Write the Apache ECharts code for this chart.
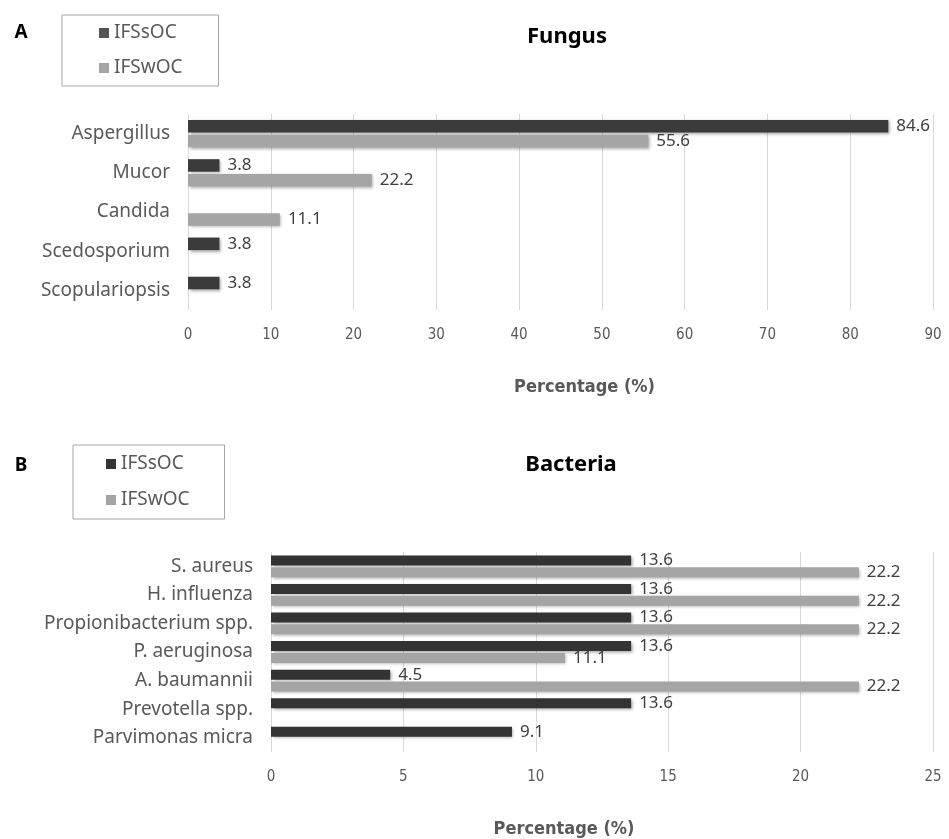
<!DOCTYPE html>
<html>
<head>
<meta charset="utf-8">
<script src="https://cdn.jsdelivr.net/npm/echarts@6/dist/echarts.min.js"></script>
<style>
html,body{margin:0;padding:0;background:#fff;}
#main{width:949px;height:839px;}
</style>
</head>
<body>
<div id="main"></div>
<script>
// ---- Data ----
const fungusCategories = ['Aspergillus', 'Mucor', 'Candida', 'Scedosporium', 'Scopulariopsis'];
const fungusIFSsOC = [84.6, 3.8, null, 3.8, 3.8];
const fungusIFSwOC = [55.6, 22.2, 11.1, null, null];

const bacteriaCategories = ['S. aureus', 'H. influenza', 'Propionibacterium spp.', 'P. aeruginosa', 'A. baumannii', 'Prevotella spp.', 'Parvimonas micra'];
const bacteriaIFSsOC = [13.6, 13.6, 13.6, 13.6, 4.5, 13.6, 9.1];
const bacteriaIFSwOC = [22.2, 22.2, 22.2, 11.1, 22.2, null, null];

const seriesNames = ['IFSsOC', 'IFSwOC'];

// ---- Styles ----
const darkA = '#3b3b3b';
const darkB = '#333333';
const grey = '#a5a5a5';
const textColor = '#595959';
const labelColor = '#404040';
const catFont = 'Noto Sans';
const tickFont = 'DejaVu Sans Condensed';

const chart = echarts.init(document.getElementById('main'), null, {renderer: 'canvas'});

function barSeries(name, data, color, axisIdx, width) {
  return {
    name: name,
    type: 'bar',
    xAxisIndex: axisIdx,
    yAxisIndex: axisIdx,
    data: data,
    barWidth: width,
    barGap: '18%',
    itemStyle: {
      color: color,
      shadowColor: 'rgba(0,0,0,0.35)',
      shadowBlur: 3,
      shadowOffsetX: 1.5,
      shadowOffsetY: 1.5
    },
    label: {
      show: true,
      position: 'right',
      distance: 8,
      color: labelColor,
      fontFamily: catFont,
      fontSize: 17,
      formatter: p => (p.value == null ? '' : p.value.toFixed(1))
    },
    emphasis: {disabled: true},
    animation: false
  };
}

function xAx(gridIndex, max, interval, namePad) {
  return {
    type: 'value',
    gridIndex: gridIndex,
    min: 0,
    max: max,
    interval: interval,
    axisLine: {show: false},
    axisTick: {show: false},
    splitLine: {show: true, lineStyle: {color: '#d9d9d9', width: 1}},
    axisLabel: {color: textColor, fontFamily: tickFont, fontSize: 15, margin: 18},
    name: 'Percentage (%)',
    nameLocation: 'middle',
    nameGap: 68,
    nameTextStyle: {color: textColor, fontFamily: 'DejaVu Sans Condensed', fontWeight: 'bold', fontSize: 18, padding: namePad}
  };
}

function yAx(gridIndex, cats) {
  return {
    type: 'category',
    gridIndex: gridIndex,
    data: cats,
    inverse: true,
    axisLine: {show: false},
    axisTick: {show: false},
    axisLabel: {color: textColor, fontFamily: catFont, fontSize: 19, margin: 18}
  };
}

function legend(left, top, padding, itemGap, darkColor) {
  return {
    orient: 'vertical',
    left: left,
    top: top,
    padding: padding,
    itemGap: itemGap,
    itemWidth: 10,
    itemHeight: 10,
    icon: 'rect',
    borderColor: '#a6a6a6',
    borderWidth: 1,
    selectedMode: false,
    textStyle: {color: textColor, fontFamily: catFont, fontSize: 19, lineHeight: 22},
    data: [
      {name: seriesNames[0], itemStyle: {color: darkColor, shadowBlur: 0, shadowOffsetX: 0, shadowOffsetY: 0}},
      {name: seriesNames[1], itemStyle: {color: grey, shadowBlur: 0, shadowOffsetX: 0, shadowOffsetY: 0}}
    ]
  };
}

function heading(text, x, y, size) {
  return {
    type: 'text',
    x: x,
    y: y,
    silent: true,
    style: {
      text: text,
      textAlign: 'center',
      textVerticalAlign: 'middle',
      fontFamily: 'Noto Sans',
      fontWeight: 'bold',
      fontSize: size,
      fill: '#000'
    }
  };
}

const option = {
  backgroundColor: '#fff',
  animation: false,
  graphic: [
    heading('A', 21, 33, 19),
    heading('Fungus', 567, 37, 22),
    heading('B', 21, 466, 19),
    heading('Bacteria', 571, 465, 22)
  ],
  legend: [
    legend(62, 15, [7, 36, 7, 37], 13, '#555555'),
    legend(73, 445, [8, 35, 8, 33], 14, darkB)
  ],
  grid: [
    {left: 188, right: 16, top: 114, height: 196, containLabel: false},
    {left: 271, right: 16, top: 552, height: 209, containLabel: false}
  ],
  xAxis: [xAx(0, 90, 10, [0, 0, 0, 48]), xAx(1, 25, 5, [0, 76, 0, 0])],
  yAxis: [yAx(0, fungusCategories), yAx(1, bacteriaCategories)],
  series: [
    barSeries(seriesNames[0], fungusIFSsOC, darkA, 0, 12.5),
    barSeries(seriesNames[1], fungusIFSwOC, grey, 0, 12.5),
    barSeries(seriesNames[0], bacteriaIFSsOC, darkB, 1, 10),
    barSeries(seriesNames[1], bacteriaIFSwOC, grey, 1, 10)
  ]
};
chart.setOption(option);
</script>
</body>
</html>
